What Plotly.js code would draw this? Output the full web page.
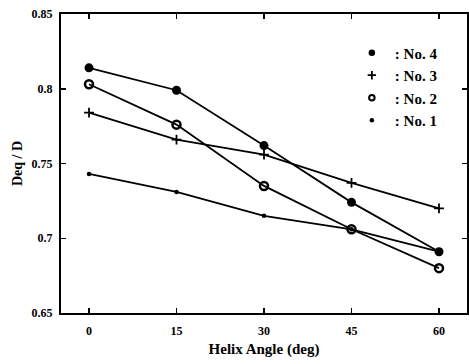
<!DOCTYPE html>
<html><head><meta charset="utf-8">
<script src="https://cdn.plot.ly/plotly-3.0.1.min.js"></script>
<style>html,body{margin:0;padding:0;background:#fff}#c{width:469px;height:364px}</style>
</head><body><div id="c"></div>
<script>
const helixAngle = [0, 15, 30, 45, 60];
const no4 = [0.814, 0.799, 0.762, 0.724, 0.691];
const no3 = [0.784, 0.766, 0.756, 0.737, 0.720];
const no2 = [0.803, 0.776, 0.735, 0.706, 0.680];
const no1 = [0.743, 0.731, 0.715, 0.706, 0.691];
const seriesNames = [': No. 4', ': No. 3', ': No. 2', ': No. 1'];

const F = 'Liberation Serif, Times New Roman, serif';
const markers = [
  {symbol: 'circle', size: 9, color: '#000'},
  {symbol: 'cross-thin', size: 7, color: '#000', line: {color: '#000', width: 1.8}},
  {symbol: 'circle-open', size: 8, color: '#000', line: {color: '#000', width: 2.5}},
  {symbol: 'circle', size: 4.5, color: '#000'}
];
const legendMarkers = [
  {symbol: 'circle', size: 6.5, color: '#000'},
  {symbol: 'cross-thin', size: 6, color: '#000', line: {color: '#000', width: 1.8}},
  {symbol: 'circle-open', size: 5.5, color: '#000', line: {color: '#000', width: 2}},
  {symbol: 'circle', size: 4.5, color: '#000'}
];
const ys = [no4, no3, no2, no1];
const traces = [];
ys.forEach((y, i) => {
  traces.push({x: helixAngle, y: y, mode: 'lines+markers', line: {color: '#000', width: 1.8},
    marker: markers[i], showlegend: false, legendgroup: 'g' + i, cliponaxis: false});
});
ys.forEach((y, i) => {
  traces.push({x: [null], y: [null], mode: 'markers', marker: legendMarkers[i], name: seriesNames[i],
    legendgroup: 'g' + i, showlegend: true});
});

const layout = {
  width: 469, height: 364,
  margin: {l: 61, r: 2, t: 14, b: 51},
  paper_bgcolor: '#fff', plot_bgcolor: '#fff',
  font: {family: F, color: '#000'},
  showlegend: true,
  legend: {x: 0.709, y: 0.925, xanchor: 'left', yanchor: 'top', bgcolor: 'rgba(0,0,0,0)',
    font: {family: F, size: 15, weight: 'bold', color: '#000'}, itemwidth: 36, tracegroupgap: 0,
    traceorder: 'normal'},
  xaxis: {range: [-4.8, 64.8], tickvals: helixAngle, ticktext: helixAngle.map(String),
    ticks: 'inside', ticklen: 5, tickwidth: 1.5, tickcolor: '#000', mirror: 'ticks',
    showline: true, linewidth: 2, linecolor: '#000', showgrid: false, zeroline: false,
    tickfont: {family: F, size: 12, weight: 'bold'}, ticklabelstandoff: 6,
    title: {text: 'Helix Angle (deg)', font: {family: F, size: 15, weight: 'bold'}, standoff: 6}},
  yaxis: {range: [0.65, 0.85], dtick: 0.05, tick0: 0.65,
    ticks: 'inside', ticklen: 5, tickwidth: 1.5, tickcolor: '#000', mirror: 'ticks',
    showline: true, linewidth: 2, linecolor: '#000', showgrid: false, zeroline: false,
    tickfont: {family: F, size: 12, weight: 'bold'}, ticklabelstandoff: 4,
    title: {text: 'Deq / D', font: {family: F, size: 14, weight: 'bold'}, standoff: 6}}
};
Plotly.newPlot('c', traces, layout, {displayModeBar: false, staticPlot: true});
</script></body></html>
